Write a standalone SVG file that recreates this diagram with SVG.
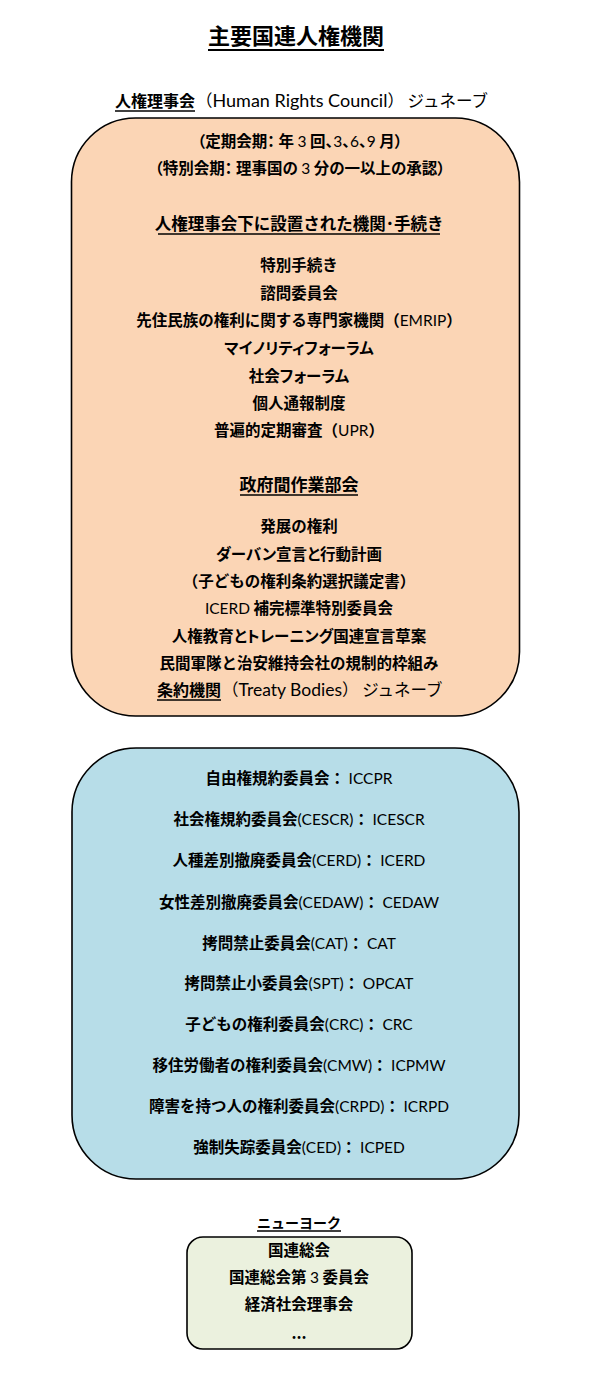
<svg xmlns="http://www.w3.org/2000/svg" width="590" height="1400" viewBox="0 0 590 1400">
<style>
.bg{fill:#ffffff}
.box{stroke:#000;stroke-width:1.6}
.orange{fill:#FBD5B5}
.blue{fill:#B7DDE8}
.green{fill:#EBF1DE}
.t{font-family:"Noto Sans CJK JP","Noto Sans CJK SC",sans-serif;font-weight:bold;font-size:15.5px;fill:#000;text-anchor:middle}
.s{text-anchor:start}
.n{font-weight:normal}
.p{font-feature-settings:"palt"}
.l{font-family:Lato,"Liberation Sans",sans-serif;font-weight:normal}
.h{font-size:16.5px}
.ul{stroke:#000;stroke-width:1.3}
</style>
<rect class="bg" x="0" y="0" width="590" height="1400"/>

<g id="title">
<text class="t" x="296" y="44" style="font-size:22px">主要国連人権機関</text>
<line class="ul" x1="208" y1="50" x2="384" y2="50" style="stroke-width:2"/>
</g>

<g id="hrc-heading">
<text class="t s" x="115" y="107" style="font-size:16px">人権理事会</text>
<line class="ul" x1="115" y1="111" x2="195" y2="111"/>
<text class="t s n" x="196" y="107" style="font-size:16.5px">（<tspan class="l" style="font-size:18px">Human Rights Council</tspan>） ジュネーブ</text>
</g>

<g id="hrc">
<rect class="box orange" x="71.5" y="118" width="448" height="598" rx="64" ry="64"/>
<text class="t p" x="300" y="147">（定期会期： 年 <tspan class="l">3</tspan> 回、<tspan class="l">3</tspan>、<tspan class="l">6</tspan>、<tspan class="l">9</tspan> 月）</text>
<text class="t p" x="300" y="174">（特別会期： 理事国の <tspan class="l">3</tspan> 分の一以上の承認）</text>
<text class="t h" x="299" y="230">人権理事会下に設置された機関･手続き</text>
<line class="ul" x1="158" y1="234" x2="440" y2="234"/>
<text class="t" x="299" y="271">特別手続き</text>
<text class="t" x="299" y="299">諮問委員会</text>
<text class="t" x="299" y="326">先住民族の権利に関する専門家機関（<tspan class="l">EMRIP</tspan>）</text>
<text class="t p" x="299" y="354">マイノリティフォーラム</text>
<text class="t p" x="299" y="382">社会フォーラム</text>
<text class="t" x="299" y="409">個人通報制度</text>
<text class="t" x="299" y="436">普遍的定期審査（<tspan class="l">UPR</tspan>）</text>
<text class="t" x="299" y="491" style="font-size:17px">政府間作業部会</text>
<line class="ul" x1="240" y1="495" x2="358" y2="495"/>
<text class="t" x="299" y="532">発展の権利</text>
<text class="t p" x="299" y="560">ダーバン宣言と行動計画</text>
<text class="t" x="299" y="587">（子どもの権利条約選択議定書）</text>
<text class="t" x="299" y="614"><tspan class="l">ICERD</tspan> 補完標準特別委員会</text>
<text class="t p" x="299" y="642">人権教育とトレーニング国連宣言草案</text>
<text class="t" x="299" y="669">民間軍隊と治安維持会社の規制的枠組み</text>
</g>

<g id="tb-heading">
<text class="t s" x="157" y="696" style="font-size:16px">条約機関</text>
<line class="ul" x1="157" y1="700" x2="221" y2="700"/>
<text class="t s n" x="222" y="696" style="font-size:16.5px">（<tspan class="l" style="font-size:17.5px">Treaty Bodies</tspan>） ジュネーブ</text>
</g>

<g id="treaty-bodies">
<rect class="box blue" x="72" y="748" width="447" height="431" rx="64" ry="64"/>
<text class="t" x="299" y="784">自由権規約委員会： <tspan class="l">ICCPR</tspan></text>
<text class="t" x="299" y="825">社会権規約委員会<tspan class="l">(CESCR)</tspan>： <tspan class="l">ICESCR</tspan></text>
<text class="t" x="299" y="866">人種差別撤廃委員会<tspan class="l">(CERD)</tspan>： <tspan class="l">ICERD</tspan></text>
<text class="t" x="299" y="908">女性差別撤廃委員会<tspan class="l">(CEDAW)</tspan>： <tspan class="l">CEDAW</tspan></text>
<text class="t" x="299" y="949">拷問禁止委員会<tspan class="l">(CAT)</tspan>： <tspan class="l">CAT</tspan></text>
<text class="t" x="299" y="989">拷問禁止小委員会<tspan class="l">(SPT)</tspan>： <tspan class="l">OPCAT</tspan></text>
<text class="t" x="299" y="1030">子どもの権利委員会<tspan class="l">(CRC)</tspan>： <tspan class="l">CRC</tspan></text>
<text class="t" x="299" y="1071">移住労働者の権利委員会<tspan class="l">(CMW)</tspan>： <tspan class="l">ICPMW</tspan></text>
<text class="t" x="299" y="1112">障害を持つ人の権利委員会<tspan class="l">(CRPD)</tspan>： <tspan class="l">ICRPD</tspan></text>
<text class="t" x="299" y="1153">強制失踪委員会<tspan class="l">(CED)</tspan>： <tspan class="l">ICPED</tspan></text>
</g>

<g id="ny-heading">
<text class="t" x="299" y="1228" style="font-size:14px">ニューヨーク</text>
<line class="ul" x1="257" y1="1231" x2="341" y2="1231"/>
</g>

<g id="new-york">
<rect class="box green" x="187" y="1237" width="225" height="112" rx="16" ry="16"/>
<text class="t" x="299" y="1256">国連総会</text>
<text class="t" x="299" y="1283">国連総会第 <tspan class="l">3</tspan> 委員会</text>
<text class="t" x="299" y="1310">経済社会理事会</text>
<text class="t" x="299" y="1339">...</text>
</g>

<g id="connectors"></g>
</svg>
